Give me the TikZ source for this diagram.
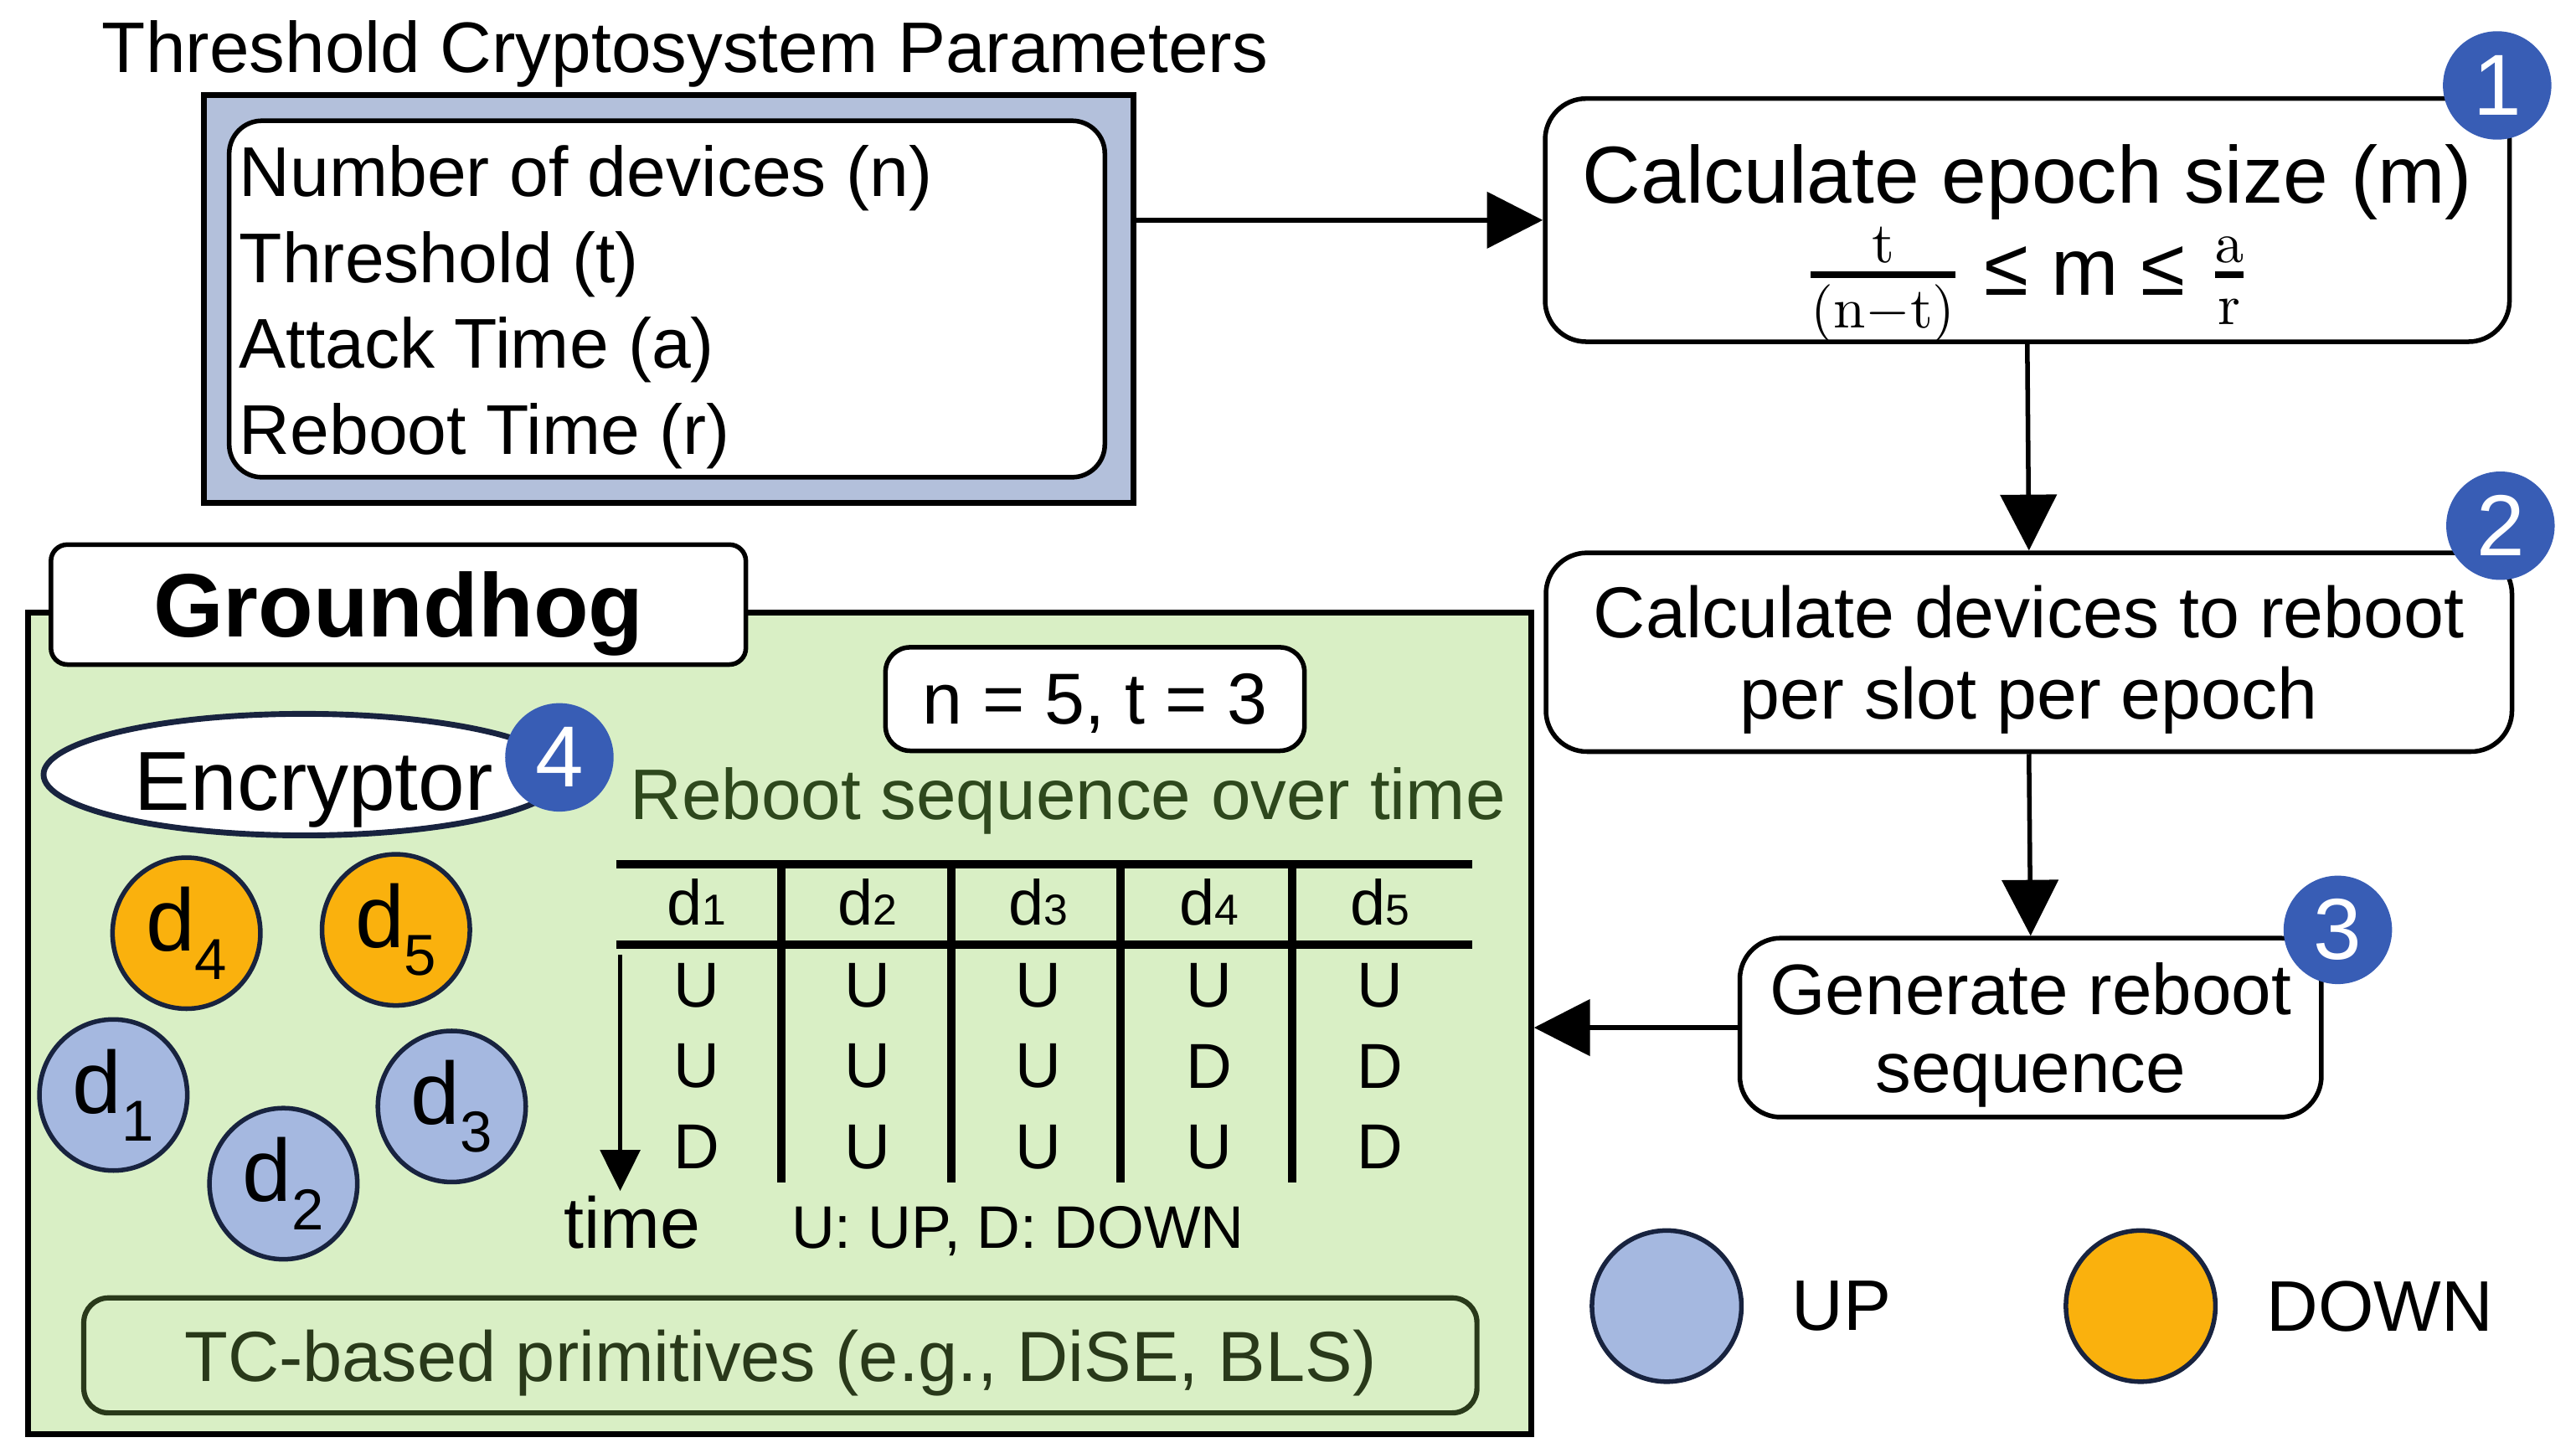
\documentclass[tikz,border=0pt]{standalone}
\usepackage{amsmath}
\usepackage[no-math]{fontspec}
\setmainfont{Liberation Sans}
\usetikzlibrary{arrows.meta,shapes.geometric,positioning}
\definecolor{paramblue}{HTML}{B3C0DB}
\definecolor{ghgreen}{HTML}{D9EFC5}
\definecolor{upblue}{HTML}{A5B8E0}
\definecolor{downorange}{HTML}{FAB10D}
\definecolor{badgeblue}{HTML}{385DB5}
\definecolor{navy}{HTML}{18233F}
\definecolor{tcgreen}{HTML}{29391A}
\definecolor{seqgreen}{HTML}{2E481D}
\newcommand{\fsz}[1]{\fontsize{#1}{#1}\selectfont}
\newcommand{\devname}[1]{d\raisebox{-0.6ex}{\fsz{10}#1}}
\newcommand{\colname}[1]{d{\fsz{7.5}#1}}
\tikzset{
  stepbox/.style={draw, fill=white, line width=0.8pt, rounded corners=0.25cm, align=center, text depth=0pt},
  badge/.style={circle, fill=badgeblue, text=white, minimum size=0.66cm, inner sep=0pt, font=\fsz{15}},
  device/.style={ellipse, draw=navy, line width=0.8pt, minimum width=0.9cm, minimum height=0.92cm, inner sep=0pt, font=\fsz{15.3}},
  flow/.style={line width=0.8pt, -{Triangle[length=0.34cm,width=0.34cm]}},
  cell/.style={font=\fsz{11}, inner sep=0pt}
}
\begin{document}
\begin{tikzpicture}[y=-1cm]
\useasboundingbox (0,0) rectangle (15.68,8.84);

% parameters
\node[font=\fsz{12.4}] (ptitle) at (4.17,0.33) {Threshold Cryptosystem Parameters};
\node[draw, fill=paramblue, line width=1pt, minimum width=5.66cm, minimum height=2.48cm] (params) at (4.07,1.82) {};
\node[stepbox, rounded corners=0.2cm, minimum width=5.33cm, minimum height=2.17cm] (pbox) at (4.06,1.82) {};
\node[anchor=west, align=left, inner sep=0pt, font=\fontsize{12.2}{14.9}\selectfont] (plist) at (1.45,1.87)
  {Number of devices (n)\\Threshold (t)\\Attack Time (a)\\Reboot Time (r)};

% steps
\node[stepbox, minimum width=5.87cm, minimum height=1.48cm, font=\fontsize{14}{16}\selectfont] (epoch) at (12.34,1.34)
  {Calculate epoch size (m)\\[0pt]
   $\genfrac{}{}{1.1pt}{1}{\mathrm{t}}{\mathrm{(n-t)}}$ ≤ m ≤ $\genfrac{}{}{1.1pt}{1}{\mathrm{a}}{\mathrm{r}}$};
\node[stepbox, minimum width=5.88cm, minimum height=1.21cm, font=\fontsize{12.5}{14}\selectfont] (slots) at (12.35,3.97)
  {Calculate devices to reboot\\per slot per epoch};
\node[stepbox, minimum width=3.54cm, minimum height=1.09cm, font=\fontsize{12.4}{13.4}\selectfont] (seq) at (12.36,6.255)
  {Generate reboot\\sequence};

% groundhog
\node[draw, fill=ghgreen, line width=1pt, minimum width=9.15cm, minimum height=5cm] (ghog) at (4.745,6.23) {};
\node[stepbox, rounded corners=0.1cm, minimum width=4.23cm, minimum height=0.73cm, font=\bfseries\fsz{15.6}] (ghtitle) at (2.425,3.68) {Groundhog};
\node[stepbox, rounded corners=0.15cm, minimum width=2.55cm, minimum height=0.63cm, font=\fsz{12.5}] (nt) at (6.665,4.255) {n = 5, t = 3};
\node[anchor=base, text=seqgreen, font=\fsz{12.4}] (seqtitle) at (6.5,4.99) {Reboot sequence over time};
\node[ellipse, draw=navy, fill=white, line width=1pt, minimum width=3.17cm, minimum height=0.74cm, inner sep=0pt] (enc) at (1.85,4.715) {};
\node[anchor=base, font=\fsz{14.5}] (enctext) at (1.91,4.93) {Encryptor};

\node[device, fill=downorange] (d4) at (1.135,5.68) {\devname{4}};
\node[device, fill=downorange] (d5) at (2.41,5.66) {\devname{5}};
\node[device, fill=upblue] (d1) at (0.69,6.665) {\devname{1}};
\node[device, fill=upblue] (d2) at (1.725,7.205) {\devname{2}};
\node[device, fill=upblue] (d3) at (2.75,6.735) {\devname{3}};

% reboot table
\draw[line width=1.5pt] (3.75,5.26) -- (8.96,5.26);
\draw[line width=1.5pt] (3.75,5.75) -- (8.96,5.75);
\foreach \x in {4.755,5.79,6.82,7.865}
  \draw[line width=1.4pt] (\x,5.26) -- (\x,7.2);
\foreach \i in {1,...,5}
  \node[cell] (h\i) at ({3.2+1.04*\i},5.49) {\colname{\i}};
\foreach \y/\row [count=\j] in {6.0/{U,U,U,U,U}, 6.49/{U,U,U,D,D}, 6.98/{D,U,U,U,D}}
  \foreach \s [count=\i] in \row
    \node[cell] (c\j\i) at ({3.2+1.04*\i},\y) {\s};
\coordinate (tstart) at (3.775,5.81);
\coordinate (tend) at (3.775,7.25);
\draw[line width=0.8pt, -{Triangle[length=0.25cm,width=0.24cm]}] (tstart) -- (tend);
\node[anchor=base, font=\fsz{12.5}] (tlabel) at (3.85,7.6) {time};
\node[anchor=base, font=\fsz{10.4}] (ulabel) at (6.195,7.6) {U: UP, D: DOWN};

\node[draw=tcgreen, line width=0.9pt, rounded corners=0.15cm, minimum width=8.48cm, minimum height=0.7cm, text=tcgreen, text depth=0pt, font=\fsz{12.3}] (tc) at (4.75,8.25)
  {TC-based primitives (e.g., DiSE, BLS)};

% legend
\node[device, fill=upblue, minimum width=0.91cm] (upkey) at (10.145,7.95) {};
\node[font=\fsz{12.4}] (uptext) at (11.21,7.95) {UP};
\node[device, fill=downorange, minimum width=0.91cm] (downkey) at (13.03,7.95) {};
\node[font=\fsz{12.4}] (downtext) at (14.485,7.95) {DOWN};

% badges
\node[badge] (b1) at (15.2,0.52) {1};
\node[badge] (b2) at (15.22,3.2) {2};
\node[badge] (b3) at (14.23,5.66) {3};
\node[badge] (b4) at (3.405,4.61) {4};

% arrows
\draw[flow] (params.east |- epoch.west) -- (epoch.west);
\draw[flow] (epoch.south) -- (slots.north);
\draw[flow] (slots.south) -- (seq.north);
\draw[flow] (seq.west) -- (seq.west -| ghog.east);
\end{tikzpicture}
\end{document}
